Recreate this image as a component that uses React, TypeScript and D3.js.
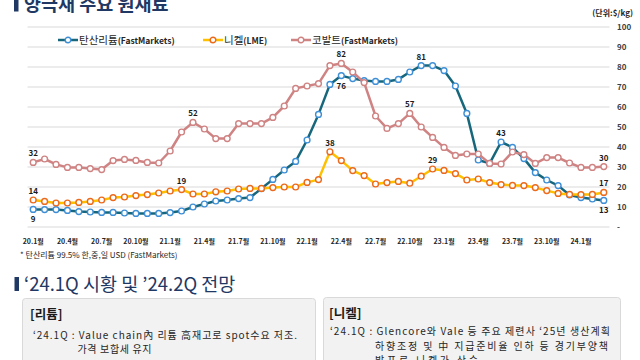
import React from "react";
import * as d3 from "d3";

// 월별 카테고리 (20.1 ~ 24.3)
const months = [
  "20.1", "20.2", "20.3", "20.4", "20.5", "20.6", "20.7", "20.8", "20.9", "20.10", "20.11", "20.12",
  "21.1", "21.2", "21.3", "21.4", "21.5", "21.6", "21.7", "21.8", "21.9", "21.10", "21.11", "21.12",
  "22.1", "22.2", "22.3", "22.4", "22.5", "22.6", "22.7", "22.8", "22.9", "22.10", "22.11", "22.12",
  "23.1", "23.2", "23.3", "23.4", "23.5", "23.6", "23.7", "23.8", "23.9", "23.10", "23.11", "23.12",
  "24.1", "24.2", "24.3",
];

const lithium = [
  8.8, 8.7, 8.7, 8.3, 7.7, 7.5, 7.3, 7.3, 7.0, 6.8, 6.8, 6.8,
  7.2, 8.0, 10.0, 11.5, 13.0, 13.5, 14.2, 14.7, 19.2, 23.8, 28.5, 32.8,
  43.5, 56.3, 71.3, 75.7, 74.2, 73.2, 72.8, 72.8, 73.8, 77.5, 80.7, 80.7,
  78.2, 70.5, 56.8, 33.5, 31.8, 42.5, 39.8, 34.2, 27.2, 23.5, 20.7, 16.0,
  14.7, 14.0, 13.3,
];

const nickel = [
  13.5, 12.8, 12.0, 12.0, 12.3, 12.8, 13.5, 14.7, 15.0, 15.7, 16.2, 17.0,
  18.0, 18.7, 16.5, 16.5, 17.6, 18.0, 19.0, 19.3, 19.3, 19.7, 20.0, 20.0,
  22.3, 23.7, 37.6, 33.2, 28.2, 25.7, 21.5, 22.2, 22.8, 21.9, 25.4, 29.0,
  28.3, 26.7, 23.5, 24.0, 22.2, 21.2, 20.8, 20.7, 19.7, 18.2, 16.8, 16.3,
  16.2, 16.3, 17.3,
];

const cobalt = [
  32.3, 34.0, 31.3, 29.8, 29.8, 29.2, 28.7, 33.2, 33.8, 33.3, 32.3, 32.0,
  38.0, 47.5, 52.3, 49.0, 44.2, 44.2, 51.7, 51.7, 51.7, 54.8, 60.5, 69.3,
  70.5, 71.7, 80.7, 81.8, 77.5, 72.2, 55.5, 49.3, 51.7, 56.8, 50.0, 44.8,
  39.8, 35.8, 36.5, 36.5, 31.8, 31.5, 37.5, 36.2, 31.8, 34.7, 34.7, 32.0,
  29.8, 29.8, 30.2,
];

const yTicks = [0, 10, 20, 30, 40, 50, 60, 70, 80, 90, 100];

// 데이터 라벨 (값 표시) : 인덱스 목록
const lithiumLabels = [0, 27, 34, 41, 50];
const nickelLabels = [0, 13, 26, 35, 50];
const cobaltLabels = [0, 14, 27, 33, 50];

const NAVY = "#1f3864";
const FONT = "'Noto Sans CJK KR', 'Noto Sans', sans-serif";

const series = [
  { name: "탄산리튬", sub: "(FastMarkets)", values: lithium, line: "#17677c", mark: "#3f8fd6", labels: lithiumLabels },
  { name: "니켈", sub: "(LME)", values: nickel, line: "#ffc000", mark: "#ec6a1c", labels: nickelLabels },
  { name: "코발트", sub: "(FastMarkets)", values: cobalt, line: "#cf8383", mark: "#cf8383", labels: cobaltLabels },
];

// 라벨이 마커 아래쪽에 놓이는 경우
const belowLabels: Record<string, number[]> = { 탄산리튬: [0, 27, 50] };

export default function App() {
  const x = d3
    .scaleBand<number>()
    .domain(d3.range(months.length))
    .range([27.5, 609.5])
    .padding(0);
  const y = d3.scaleLinear().domain([0, 100]).range([227, 27]);
  const cx = (i: number) => (x(i) as number) + x.bandwidth() / 2;

  const line = d3
    .line<number>()
    .x((d, i) => cx(i))
    .y((d) => y(d));

  const legendX = [58, 203, 291];

  return (
    <svg
      width={640}
      height={360}
      style={{ position: "absolute", left: 0, top: 0, fontFamily: FONT }}
    >
      <rect width={640} height={360} fill="#fff" />

      {/* 제목 */}
      <rect x={14} y={-4} width={4.5} height={15.5} fill={NAVY} />
      <text x={24} y={11} fontSize={18.5} fontWeight={700} fill={NAVY}>
        양극재 주요 원재료
      </text>
      <text x={633} y={16} fontSize={8} fontWeight={700} fill="#262626" textAnchor="end">
        (단위:$/kg)
      </text>

      {/* 그리드 & 축 */}
      {yTicks.map((t) => (
        <g key={t}>
          <line x1={27.5} x2={609.5} y1={y(t)} y2={y(t)} stroke="#d9d9d9" strokeWidth={1} />
          <text x={617} y={y(t) + 3} fontSize={8} fontWeight={700} fill="#404040">
            {t === 0 ? "-" : t}
          </text>
        </g>
      ))}
      {months.map((m, i) =>
        i % 3 === 0 ? (
          <text key={m} x={cx(i)} y={243.5} fontSize={7} fontWeight={700} fill="#262626" textAnchor="middle">
            {m}월
          </text>
        ) : null
      )}

      {/* 범례 */}
      {series.map((s, k) => (
        <g key={s.name} transform={`translate(${legendX[k]},40)`}>
          <line x1={0} x2={20} y1={0} y2={0} stroke={s.line} strokeWidth={2.5} />
          <circle cx={10} cy={0} r={2.8} fill="#fff" stroke={s.mark} strokeWidth={1.4} />
          <text x={21} y={3.8} fill="#262626">
            <tspan fontSize={10.5}>{s.name}</tspan>
            <tspan fontSize={8.5} fontWeight={700}>{s.sub}</tspan>
          </text>
        </g>
      ))}

      {/* 라인 */}
      {series.map((s) => (
        <g key={s.name}>
          <path d={line(s.values) || ""} fill="none" stroke={s.line} strokeWidth={2.5} strokeLinejoin="round" />
          {s.values.map((v, i) => (
            <circle key={i} cx={cx(i)} cy={y(v)} r={2.9} fill="#fff" stroke={s.mark} strokeWidth={1.4} />
          ))}
        </g>
      ))}

      {/* 데이터 라벨 */}
      {series.map((s) =>
        s.labels.map((i) => {
          const below = (belowLabels[s.name] || []).includes(i);
          return (
            <text
              key={s.name + i}
              x={cx(i)}
              y={below ? y(s.values[i]) + 13 : y(s.values[i]) - 6}
              fontSize={8}
              fontWeight={700}
              fill="#1a1a1a"
              textAnchor="middle"
            >
              {Math.round(s.values[i])}
            </text>
          );
        })
      )}

      <text x={20} y={258} fontSize={8} fill="#262626">
        * 탄산리튬 99.5% 한,중,일 USD (FastMarkets)
      </text>

      {/* 하단 섹션 */}
      <rect x={14.5} y={277} width={4.5} height={14} fill={NAVY} />
      <text x={24} y={291} fontSize={18.5} fill={NAVY}>
        ‘24.1Q 시황 및 ’24.2Q 전망
      </text>

      <rect x={22.5} y={298.5} width={293} height={80} rx={3} fill="#f2f2f2" stroke="#d9d9d9" />
      <text x={30} y={318.5} fontSize={12.5} fontWeight={700} fill="#1a1a1a">
        [리튬]
      </text>
      <text x={33} y={339} fontSize={10} fill="#262626" textLength={264} lengthAdjust="spacing">
        ‘24.1Q : Value chain內 리튬 高재고로 spot수요 저조.
      </text>
      <text x={77.5} y={352.5} fontSize={10} fill="#262626" textLength={74} lengthAdjust="spacing">
        가격 보합세 유지
      </text>

      <rect x={323.5} y={297.5} width={297} height={80} rx={3} fill="#f2f2f2" stroke="#d9d9d9" />
      <text x={329} y={318} fontSize={12.5} fontWeight={700} fill="#1a1a1a">
        [니켈]
      </text>
      <text x={330} y={335} fontSize={10} fill="#262626" textLength={280} lengthAdjust="spacing">
        ‘24.1Q : Glencore와 Vale 등 주요 제련사 ‘25년 생산계획
      </text>
      <text x={375} y={349.5} fontSize={10} fill="#262626" textLength={233} lengthAdjust="spacing">
        하향조정 및 中 지급준비율 인하 등 경기부양책
      </text>
      <text x={375} y={364} fontSize={10} fill="#262626" textLength={103} lengthAdjust="spacing">
        발표로 니켈가 상승
      </text>
    </svg>
  );
}
